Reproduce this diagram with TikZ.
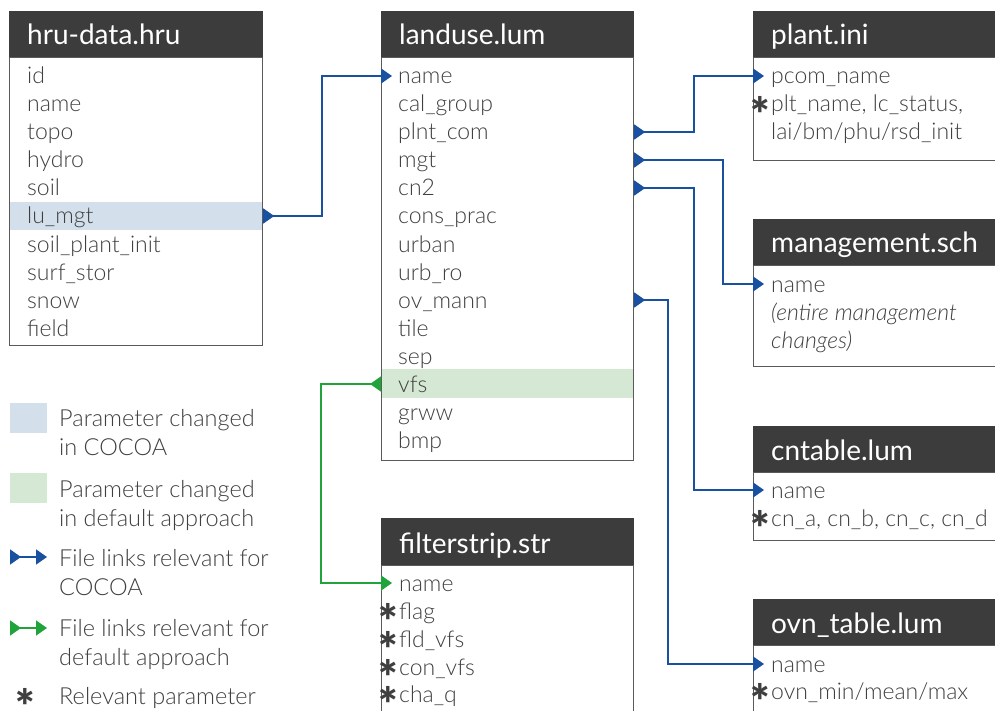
\documentclass[tikz,border=0pt]{standalone}
\usepackage{fontspec}
\setmainfont{Lato}[UprightFont=* Light, ItalicFont=* Light Italic, BoldFont=* Black]
\newfontfamily\hfont{Lato}
\usetikzlibrary{arrows.meta,calc,backgrounds}
\definecolor{hdr}{HTML}{3C3C3C}
\definecolor{txt}{HTML}{3F3F3F}
\definecolor{bord}{HTML}{5A5A5A}
\definecolor{lblue}{HTML}{D3DFEB}
\definecolor{lgreen}{HTML}{D5E8D4}
\definecolor{cblue}{HTML}{1A50A0}
\definecolor{cgreen}{HTML}{1FA33A}
\newcommand\starglyph{\smash{\raisebox{-19.5pt}{\fontsize{46}{46}\selectfont\bfseries *}}}
\newcommand\pstar{\llap{\starglyph\hspace{1pt}}}
\tikzset{
  body/.style={draw=bord, line width=1.2pt, anchor=north west, inner sep=0pt},
  head/.style={fill=hdr, draw=hdr, line width=1.2pt, anchor=south west, inner sep=0pt},
  htext/.style={anchor=base west, inner sep=0pt, text=white, font=\hfont\fontsize{28}{30}\selectfont},
  rtext/.style={anchor=west, inner sep=0pt, text height=17pt, text depth=1pt, text=txt, font=\fontsize{23}{26}\selectfont},
  ltext/.style={anchor=base west, inner sep=0pt, text=txt, font=\fontsize{23.5}{29}\selectfont},
  clink/.style={draw=cblue, line width=1.5pt, {Triangle[reversed,length=11pt,width=15pt]}-{Triangle[length=11pt,width=15pt]}},
  glink/.style={clink, draw=cgreen},
}
\begin{document}
\begin{tikzpicture}[x=1pt,y=-1pt]
\useasboundingbox (0,0) rectangle (995,711);
% highlights
\begin{pgfonlayer}{background}
\fill[lblue] (10,202) rectangle (262,230);
\fill[lgreen] (382,369) rectangle (633,398);
\end{pgfonlayer}
% hru-data.hru
\node[body, minimum width=253pt, minimum height=288pt] (hru) at (9,57) {};
\node[head, minimum width=253pt, minimum height=45pt] (hru-h) at (9,57) {};
\node[htext] (hru-t) at (27,45) {hru-data.hru};
\foreach \t/\n [count=\i from 0] in {id/id, name/name, topo/topo, hydro/hydro, soil/soil, lu\_mgt/lumgt, soil\_plant\_init/spi, surf\_stor/surf, snow/snow, field/field}
  \node[rtext] (hru-\n) at (27,76+28*\i) {\t};
% landuse.lum
\node[body, minimum width=252pt, minimum height=403pt] (lu) at (381,57) {};
\node[head, minimum width=252pt, minimum height=45pt] (lu-h) at (381,57) {};
\node[htext] (lu-t) at (399,45) {landuse.lum};
\foreach \t/\n [count=\i from 0] in {name/name, cal\_group/calgroup, plnt\_com/plntcom, mgt/mgt, cn2/cn2, cons\_prac/consprac, urban/urban, urb\_ro/urbro, ov\_mann/ovmann, tile/tile, sep/sep, vfs/vfs, grww/grww, bmp/bmp}
  \node[rtext] (lu-\n) at (398,76+28*\i) {\t};
% filterstrip.str
\node[body, minimum width=252pt, minimum height=165pt] (fs) at (381,565) {};
\node[head, minimum width=252pt, minimum height=46pt] (fs-h) at (381,565) {};
\node[htext] (fs-t) at (399,553) {filterstrip.str};
\node[rtext] (fs-name) at (399,583) {name};
\node[rtext] (fs-flag) at (399,611) {\pstar flag};
\node[rtext] (fs-fld) at (399,639) {\pstar fld\_vfs};
\node[rtext] (fs-con) at (399,667) {\pstar con\_vfs};
\node[rtext] (fs-cha) at (399,694) {\pstar cha\_q};
% plant.ini
\node[body, minimum width=250pt, minimum height=103pt] (pl) at (753,57) {};
\node[head, minimum width=250pt, minimum height=45pt] (pl-h) at (753,57) {};
\node[htext] (pl-t) at (771,45) {plant.ini};
\node[rtext] (pl-pcom) at (771,76) {pcom\_name};
\node[rtext] (pl-plt) at (771,104) {\pstar plt\_name, lc\_status,};
\node[rtext] (pl-lai) at (771,132) {lai/bm/phu/rsd\_init};
% management.sch
\node[body, minimum width=250pt, minimum height=101pt] (mg) at (753,265) {};
\node[head, minimum width=250pt, minimum height=45pt] (mg-h) at (753,265) {};
\node[htext] (mg-t) at (771,253) {management.sch};
\node[rtext] (mg-name) at (771,284) {name};
\node[rtext] (mg-ent) at (771,312) {\itshape (entire management};
\node[rtext] (mg-chg) at (771,340) {\itshape changes)};
% cntable.lum
\node[body, minimum width=250pt, minimum height=68pt] (cn) at (753,472) {};
\node[head, minimum width=250pt, minimum height=45pt] (cn-h) at (753,472) {};
\node[htext] (cn-t) at (771,460) {cntable.lum};
\node[rtext] (cn-name) at (771,490) {name};
\node[rtext] (cn-par) at (771,518) {\pstar cn\_a, cn\_b, cn\_c, cn\_d};
% ovn_table.lum
\node[body, minimum width=250pt, minimum height=85pt] (ov) at (753,645) {};
\node[head, minimum width=250pt, minimum height=45pt] (ov-h) at (753,645) {};
\node[htext] (ov-t) at (771,633) {ovn\_table.lum};
\node[rtext] (ov-name) at (771,664) {name};
\node[rtext] (ov-par) at (771,691) {\pstar ovn\_min/mean/max};
% connectors
\draw[clink] (hru-lumgt -| hru.east) -- ++(59,0) |- ($(lu-name -| lu.west)+(11,0)$);
\draw[clink] (lu-plntcom -| lu.east) -- ++(60,0) |- ($(pl-pcom -| pl.west)+(11,0)$);
\draw[clink] (lu-mgt -| lu.east) -- ++(89,0) |- ($(mg-name -| mg.west)+(11,0)$);
\draw[clink] (lu-cn2 -| lu.east) -- ++(60,0) |- ($(cn-name -| cn.west)+(11,0)$);
\draw[clink] (lu-ovmann -| lu.east) -- ++(34,0) |- ($(ov-name -| ov.west)+(11,0)$);
\draw[glink] (lu-vfs -| lu.west) -- ++(-60,0) |- ($(fs-name -| fs.west)+(11,0)$);
% legend
\fill[lblue] (10,403) rectangle (47,433);
\node[ltext] (l1a) at (59,426) {Parameter changed};
\node[ltext] (l1b) at (59,455) {in COCOA};
\fill[lgreen] (10,473) rectangle (47,503);
\node[ltext] (l2a) at (59,497) {Parameter changed};
\node[ltext] (l2b) at (59,526) {in default approach};
\coordinate (lb1) at (10,557);
\coordinate (lb2) at (47,557);
\draw[clink] (lb1) -- (lb2);
\node[ltext] (l3a) at (59,566) {File links relevant for};
\node[ltext] (l3b) at (59,595) {COCOA};
\coordinate (lg1) at (10,628);
\coordinate (lg2) at (47,628);
\draw[glink] (lg1) -- (lg2);
\node[ltext] (l4a) at (59,636) {File links relevant for};
\node[ltext] (l4b) at (59,665) {default approach};
\node[ltext] (l5) at (59,704) {\llap{\starglyph\hspace{24pt}}Relevant parameter};
\end{tikzpicture}
\end{document}
